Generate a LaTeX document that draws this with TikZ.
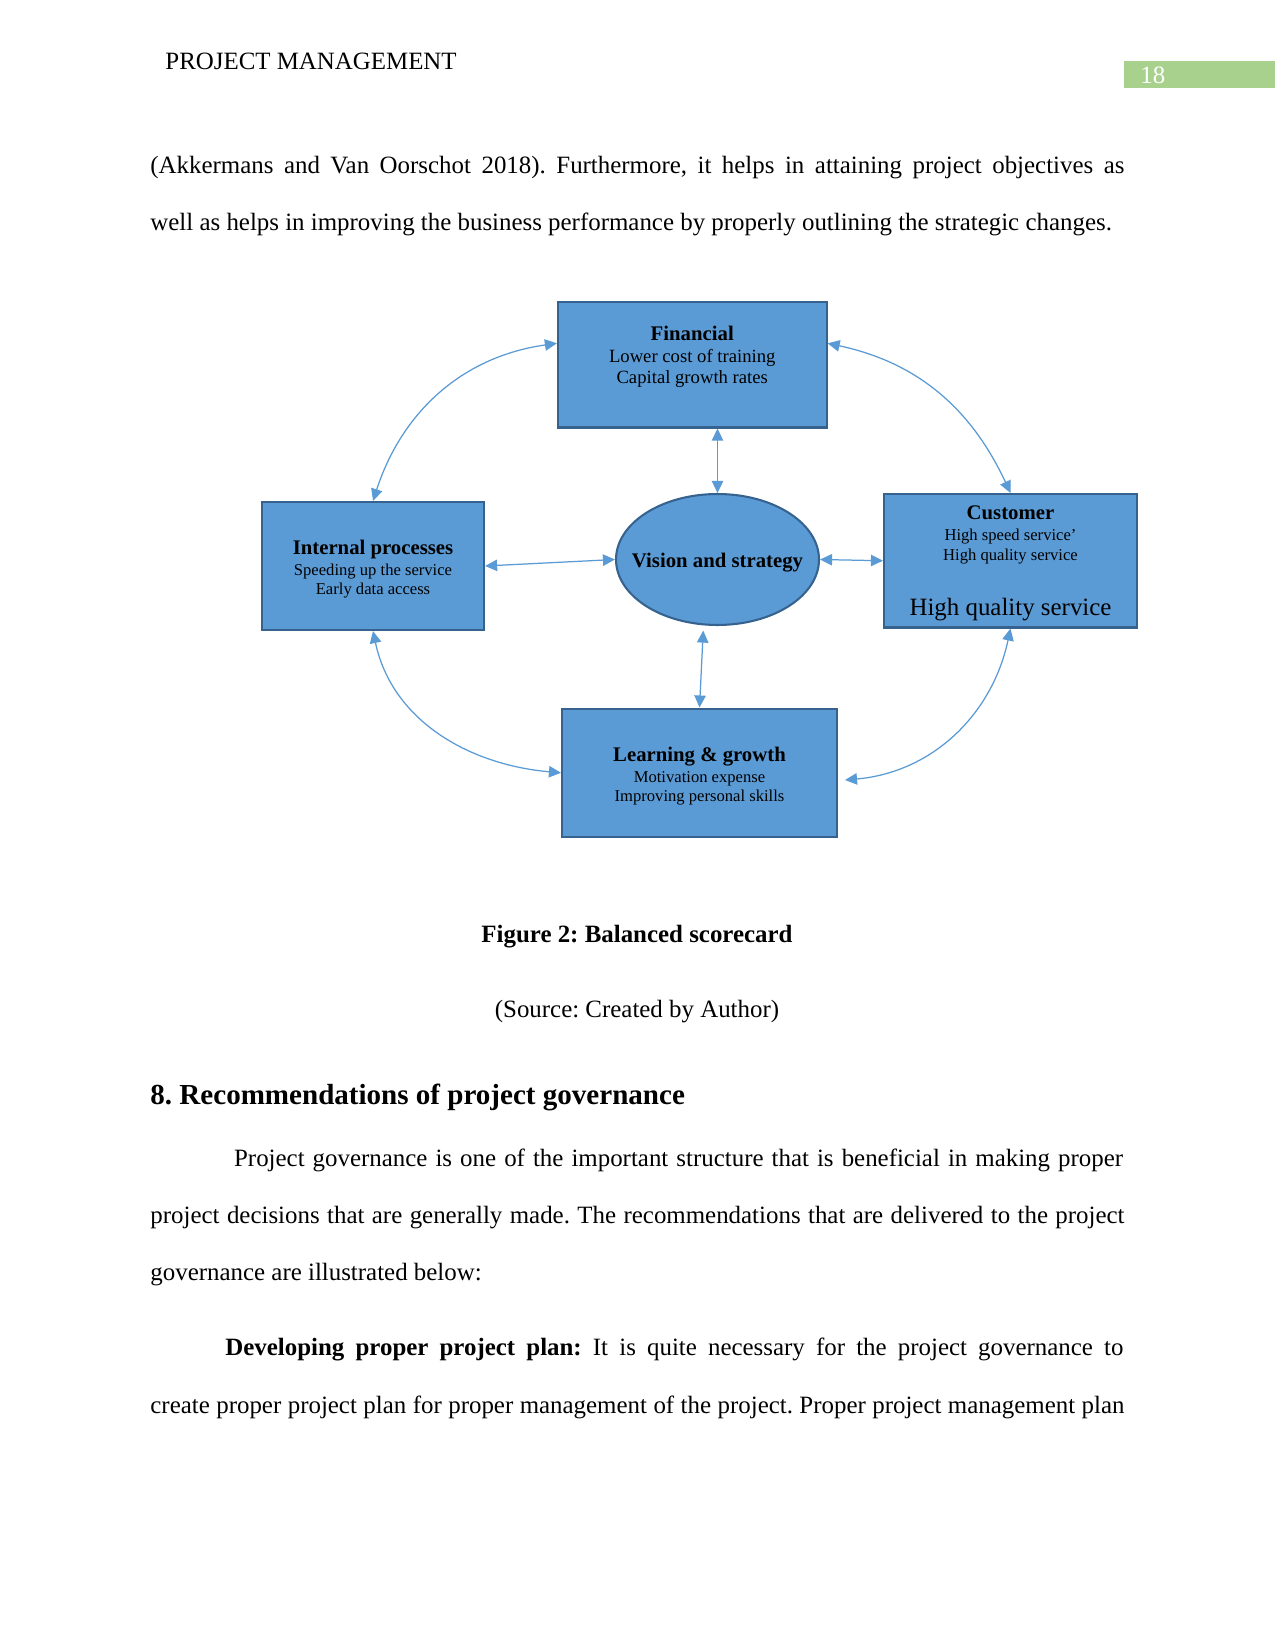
\documentclass[tikz,border=0pt]{standalone}
\usepackage{fontspec}
\setmainfont{Liberation Serif}
\frenchspacing
\usetikzlibrary{arrows.meta, shapes.geometric}
\definecolor{bscfill}{HTML}{5B9BD5}
\definecolor{bscedge}{HTML}{35628F}
\definecolor{hdrgreen}{HTML}{A9D18E}
\tikzset{
  bscbox/.style={draw=bscedge, line width=1pt, fill=bscfill, align=center, inner sep=0pt},
  link/.style={bscfill, line width=0.6pt, {Triangle[length=5.8pt,width=5.5pt]}-{Triangle[length=5.8pt,width=5.5pt]}},
  body/.style={font=\fontsize{12}{14}\selectfont\frenchspacing, anchor=base west, inner sep=0pt},
  small/.style={font=\fontsize{8}{9.4}\selectfont, align=center, inner sep=0pt},
}

\begin{document}
\begin{tikzpicture}[x=0.4818pt, y=0.4818pt]
  \fill[white] (0,0) rectangle (1275,-1651);
  \useasboundingbox (0,0) rectangle (1275,-1651);

  % running head
  \node[body] (head) at (165,-70) {PROJECT MANAGEMENT};
  \fill[hdrgreen] (1124,-61) rectangle (1275,-88);
  \node[body, text=white] (pagenum) at (1140,-83.5) {18};

  % text above the figure
  \node[body] (p1a) at (150,-174) {\makebox[469.3pt][s]{(Akkermans and Van Oorschot 2018). Furthermore, it helps in attaining project objectives as}};
  \node[body] (p1b) at (150,-231) {well as helps in improving the business performance by properly outlining the strategic changes.};

  % balanced scorecard
  \node[bscbox, minimum width=129.4pt, minimum height=60.5pt] (fin) at (692.25,-364.75) {};
  \node[font=\fontsize{9}{10.2}\selectfont, align=center, inner sep=0pt] (fintxt) at (692.25,-357) {{\fontsize{10}{12}\selectfont\bfseries Financial}\\[0.4pt]Lower cost of training\\Capital growth rates};

  \node[bscbox, small, minimum width=107pt, minimum height=61.7pt] (int) at (373,-566) {};
  \node[small] (inttxt) at (373,-569) {{\fontsize{10}{12}\selectfont\bfseries Internal processes}\\[0.6pt]Speeding up the service\\Early data access};

  \node[bscbox, ellipse, minimum width=97.8pt, minimum height=63.1pt] (vis) at (717.5,-559.5) {};
  \node[font=\fontsize{10}{12}\selectfont\bfseries, inner sep=0pt] (vistxt) at (717.5,-562.5) {Vision and strategy};

  \node[bscbox, minimum width=121.9pt, minimum height=64.3pt] (cus) at (1010.5,-560.75) {};
  \node[small] (custxt) at (1010.5,-535) {{\fontsize{10}{12}\selectfont\bfseries Customer}\\[0.6pt]High speed service’\\High quality service};
  \node[font=\fontsize{12}{14}\selectfont, inner sep=0pt] (cusbig) at (1010.5,-610) {High quality service};

  \node[bscbox, minimum width=132.5pt, minimum height=61.9pt] (lrn) at (699.5,-772.8) {};
  \node[small] (lrntxt) at (699.5,-776) {{\fontsize{10}{12}\selectfont\bfseries Learning \& growth}\\[0.6pt]Motivation expense\\Improving personal skills};
  \coordinate (lrnR) at (845,-780);

  \draw[link] (fin.south -| vis.north) -- (vis.north);
  \draw[link] (int.east) -- (vis.west);
  \draw[link] (vis.east) -- (cus.west);
  \draw[link, shorten >=2.5pt] (lrn.north) -- (vis.258);
  \draw[link] (int.north) to[out=72, in=188] (fin.171);
  \draw[link] (fin.9) to[out=-12, in=115] (cus.north);
  \draw[link] (int.south) to[out=-78, in=175] (lrn.west);
  \draw[link] (cus.south) to[out=-102, in=5] (lrnR);

  % caption
  \node[body, anchor=base, font=\fontsize{12}{14}\selectfont\bfseries] (cap) at (637,-942) {Figure 2: Balanced scorecard};
  \node[body, anchor=base] (src) at (637,-1017) {(Source: Created by Author)};

  % section 8
  \node[body, font=\fontsize{14}{16}\selectfont\bfseries] (sec) at (150,-1104) {8. Recommendations of project governance};
  \node[body] (p2a) at (233.7,-1166.5) {\makebox[428.3pt][s]{Project governance is one of the important structure that is beneficial in making proper}};
  \node[body] (p2b) at (150,-1223.5) {\makebox[469.3pt][s]{project decisions that are generally made. The recommendations that are delivered to the project}};
  \node[body] (p2c) at (150,-1280.5) {governance are illustrated below:};
  \node[body] (p3a) at (225,-1355.5) {\makebox[432.7pt][s]{\textbf{Developing proper project plan:} It is quite necessary for the project governance to}};
  \node[body] (p3b) at (150,-1413.5) {\makebox[469.3pt][s]{create proper project plan for proper management of the project. Proper project management plan}};
\end{tikzpicture}
\end{document}
